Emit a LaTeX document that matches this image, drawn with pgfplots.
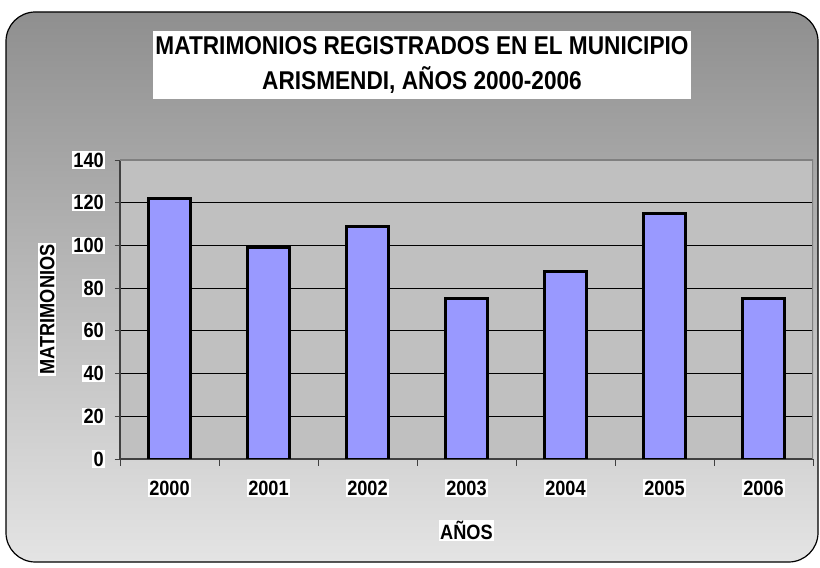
\documentclass[border=0pt]{standalone}
\usepackage{pgfplots}
\pgfplotsset{compat=1.18}
\usepackage{fontspec}
\setmainfont{Liberation Sans}[FakeStretch=0.88]
\definecolor{barc}{HTML}{9999FF}
\definecolor{plotbg}{HTML}{C0C0C0}
\definecolor{bgtop}{HTML}{8F8F8F}
\definecolor{bgbot}{HTML}{E4E4E4}
\begin{document}
\begin{tikzpicture}[x=0.75pt,y=0.75pt]
\fill[white] (0,0) rectangle (820,567);
\shade[top color=bgtop, bottom color=bgbot, rounded corners=22pt] (6,5) rectangle (818,555);
\draw[black, line width=0.9pt, rounded corners=22pt] (6,5) rectangle (818,555);
\node[fill=white, inner xsep=2pt, inner ysep=4.5pt, align=center, font=\bfseries\fontsize{19.3}{26}\selectfont] at (422,502)
  {MATRIMONIOS REGISTRADOS EN EL MUNICIPIO\\ARISMENDI, AÑOS 2000-2006};
\begin{axis}[
  at={(90pt,81pt)}, anchor=south west,
  scale only axis, width=519.75pt, height=224.25pt,
  xmin=-0.5, xmax=6.5, ymin=0, ymax=140,
  ybar, bar width=31.5pt,
  axis background/.style={fill=plotbg},
  axis x line*=bottom, axis y line*=left,
  axis line style={black!75, line width=0.8pt},
  xtick={0,...,6}, xticklabels={2000,2001,2002,2003,2004,2005,2006},
  major x tick style={draw=none},
  minor xtick={-0.5,0.5,...,6.5},
  minor x tick style={black!75, line width=0.7pt},
  minor tick length=5pt,
  ytick={0,20,...,140},
  major tick length=4pt,
  tick align=outside,
  y tick style={black!75, line width=0.7pt},
  ymajorgrids, grid style={black, line width=0.6pt},
  tick label style={font=\bfseries\fontsize{15.5}{17}\selectfont, fill=white, inner sep=1pt},
  /pgf/number format/assume math mode=true,
  xticklabel style={yshift=-11pt},
  yticklabel style={xshift=-7pt},
  xlabel={AÑOS}, ylabel={MATRIMONIOS},
  label style={font=\bfseries\fontsize{15.5}{17}\selectfont, fill=white, inner sep=1pt},
  xlabel style={yshift=-17pt},
  ylabel style={yshift=12pt},
]
\draw[black!50, line width=0.8pt] (rel axis cs:0,1) -- (rel axis cs:1,1) -- (rel axis cs:1,0);
\addplot[fill=barc, draw=black, line width=2.2pt] coordinates {(0,122) (1,99) (2,109) (3,75) (4,88) (5,115) (6,75)};
\end{axis}
\end{tikzpicture}
\end{document}
